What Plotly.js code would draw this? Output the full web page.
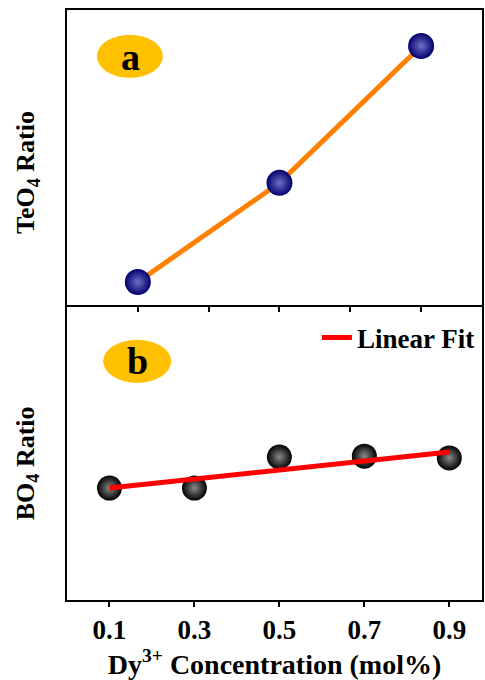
<!DOCTYPE html>
<html>
<head>
<meta charset="utf-8">
<script src="https://cdn.plot.ly/plotly-3.0.1.min.js"></script>
<style>html,body{margin:0;padding:0;background:#fff}#chart{width:485px;height:680px}</style>
</head>
<body>
<div id="chart"></div>
<script>
// Panel (a): TeO4 ratio (arbitrary units)
const teoX = [1, 3, 5];
const teoY = [0.078, 0.414, 0.878];
const teoTicks = [1, 2, 3, 4, 5];

// Panel (b): BO4 ratio (arbitrary units) vs Dy3+ concentration (mol%)
const dyConc = [0.1, 0.3, 0.5, 0.7, 0.9];
const bo4Y = [0.382, 0.382, 0.488, 0.491, 0.485];
const fitX = [0.1, 0.9];
const fitY = [0.382, 0.505];
const xTickLabels = ['0.1', '0.3', '0.5', '0.7', '0.9'];

const FONT = 'Liberation Serif, Times New Roman, serif';

const traces = [
  {
    x: teoX, y: teoY, xaxis: 'x2', yaxis: 'y', type: 'scatter', mode: 'lines+markers',
    line: {color: '#FF8000', width: 5},
    marker: {size: 26, color: '#00006e', gradient: {type: 'radial', color: '#7070c8'}, line: {width: 0}},
    showlegend: false, hoverinfo: 'skip'
  },
  {
    x: dyConc, y: bo4Y, xaxis: 'x', yaxis: 'y2', type: 'scatter', mode: 'markers',
    marker: {size: 25, color: '#000000', gradient: {type: 'radial', color: '#8a8a8a'}, line: {width: 0}},
    showlegend: false, hoverinfo: 'skip'
  },
  {
    x: fitX, y: fitY, xaxis: 'x', yaxis: 'y2', type: 'scatter', mode: 'lines',
    name: '<b>Linear Fit</b>',
    line: {color: '#FF0000', width: 5},
    showlegend: true, hoverinfo: 'skip'
  }
];

const axisCommon = {showline: true, linecolor: '#000', linewidth: 2, mirror: true, showgrid: false, zeroline: false};

const layout = {
  width: 485, height: 680,
  margin: {l: 67, r: 3, t: 10, b: 80},
  paper_bgcolor: '#fff', plot_bgcolor: '#fff',
  font: {family: FONT, size: 27, color: '#000'},
  xaxis: Object.assign({}, axisCommon, {
    domain: [0, 1], anchor: 'y2', range: [0, 0.977],
    tickvals: dyConc, ticktext: xTickLabels.map(t => '<b>' + t + '</b>'),
    ticks: 'outside', ticklen: 5, tickwidth: 2, tickcolor: '#000',
    ticklabelstandoff: 0,
    tickfont: {family: FONT, size: 27, color: '#000'},
    title: {text: '<b>Dy<sup>3+</sup> Concentration (mol%)</b>', font: {family: FONT, size: 28, color: '#000'}, standoff: 6}
  }),
  yaxis2: Object.assign({}, axisCommon, {
    domain: [0, 0.4966], anchor: 'x', range: [0, 1],
    showticklabels: false, ticks: ''
  }),
  xaxis2: Object.assign({}, axisCommon, {
    domain: [0, 1], anchor: 'y', range: [0, 5.86],
    tickvals: teoTicks, showticklabels: false,
    ticks: 'outside', ticklen: 5, tickwidth: 2, tickcolor: '#000'
  }),
  yaxis: Object.assign({}, axisCommon, {
    domain: [0.5, 1], anchor: 'x2', range: [0, 1],
    showticklabels: false, ticks: ''
  }),
  legend: {
    x: 0.995, xanchor: 'right', y: 0.444, yanchor: 'middle',
    bgcolor: 'rgba(0,0,0,0)', borderwidth: 0,
    font: {family: FONT, size: 27, color: '#000'}
  },
  shapes: [
    {type: 'circle', xref: 'paper', yref: 'paper', x0: 0.072, x1: 0.231, y0: 0.885, y1: 0.958,
     fillcolor: '#FFC000', line: {width: 0}, layer: 'below'},
    {type: 'circle', xref: 'paper', yref: 'paper', x0: 0.087, x1: 0.251, y0: 0.368, y1: 0.441,
     fillcolor: '#FFC000', line: {width: 0}, layer: 'below'}
  ],
  annotations: [
    {text: '<b>a</b>', xref: 'paper', yref: 'paper', x: 0.152, y: 0.921, xanchor: 'center', yanchor: 'middle',
     showarrow: false, font: {family: FONT, size: 38, color: '#000'}},
    {text: '<b>b</b>', xref: 'paper', yref: 'paper', x: 0.169, y: 0.405, xanchor: 'center', yanchor: 'middle',
     showarrow: false, font: {family: FONT, size: 38, color: '#000'}},
    {text: '<b>TeO<sub>4</sub> Ratio</b>', xref: 'paper', yref: 'paper', x: -0.096, y: 0.724,
     xanchor: 'center', yanchor: 'middle', textangle: -90, showarrow: false,
     font: {family: FONT, size: 26, color: '#000'}},
    {text: '<b>BO<sub>4</sub> Ratio</b>', xref: 'paper', yref: 'paper', x: -0.096, y: 0.232,
     xanchor: 'center', yanchor: 'middle', textangle: -90, showarrow: false,
     font: {family: FONT, size: 26, color: '#000'}}
  ]
};

Plotly.newPlot('chart', traces, layout, {displayModeBar: false, staticPlot: true});
</script>
</body>
</html>
